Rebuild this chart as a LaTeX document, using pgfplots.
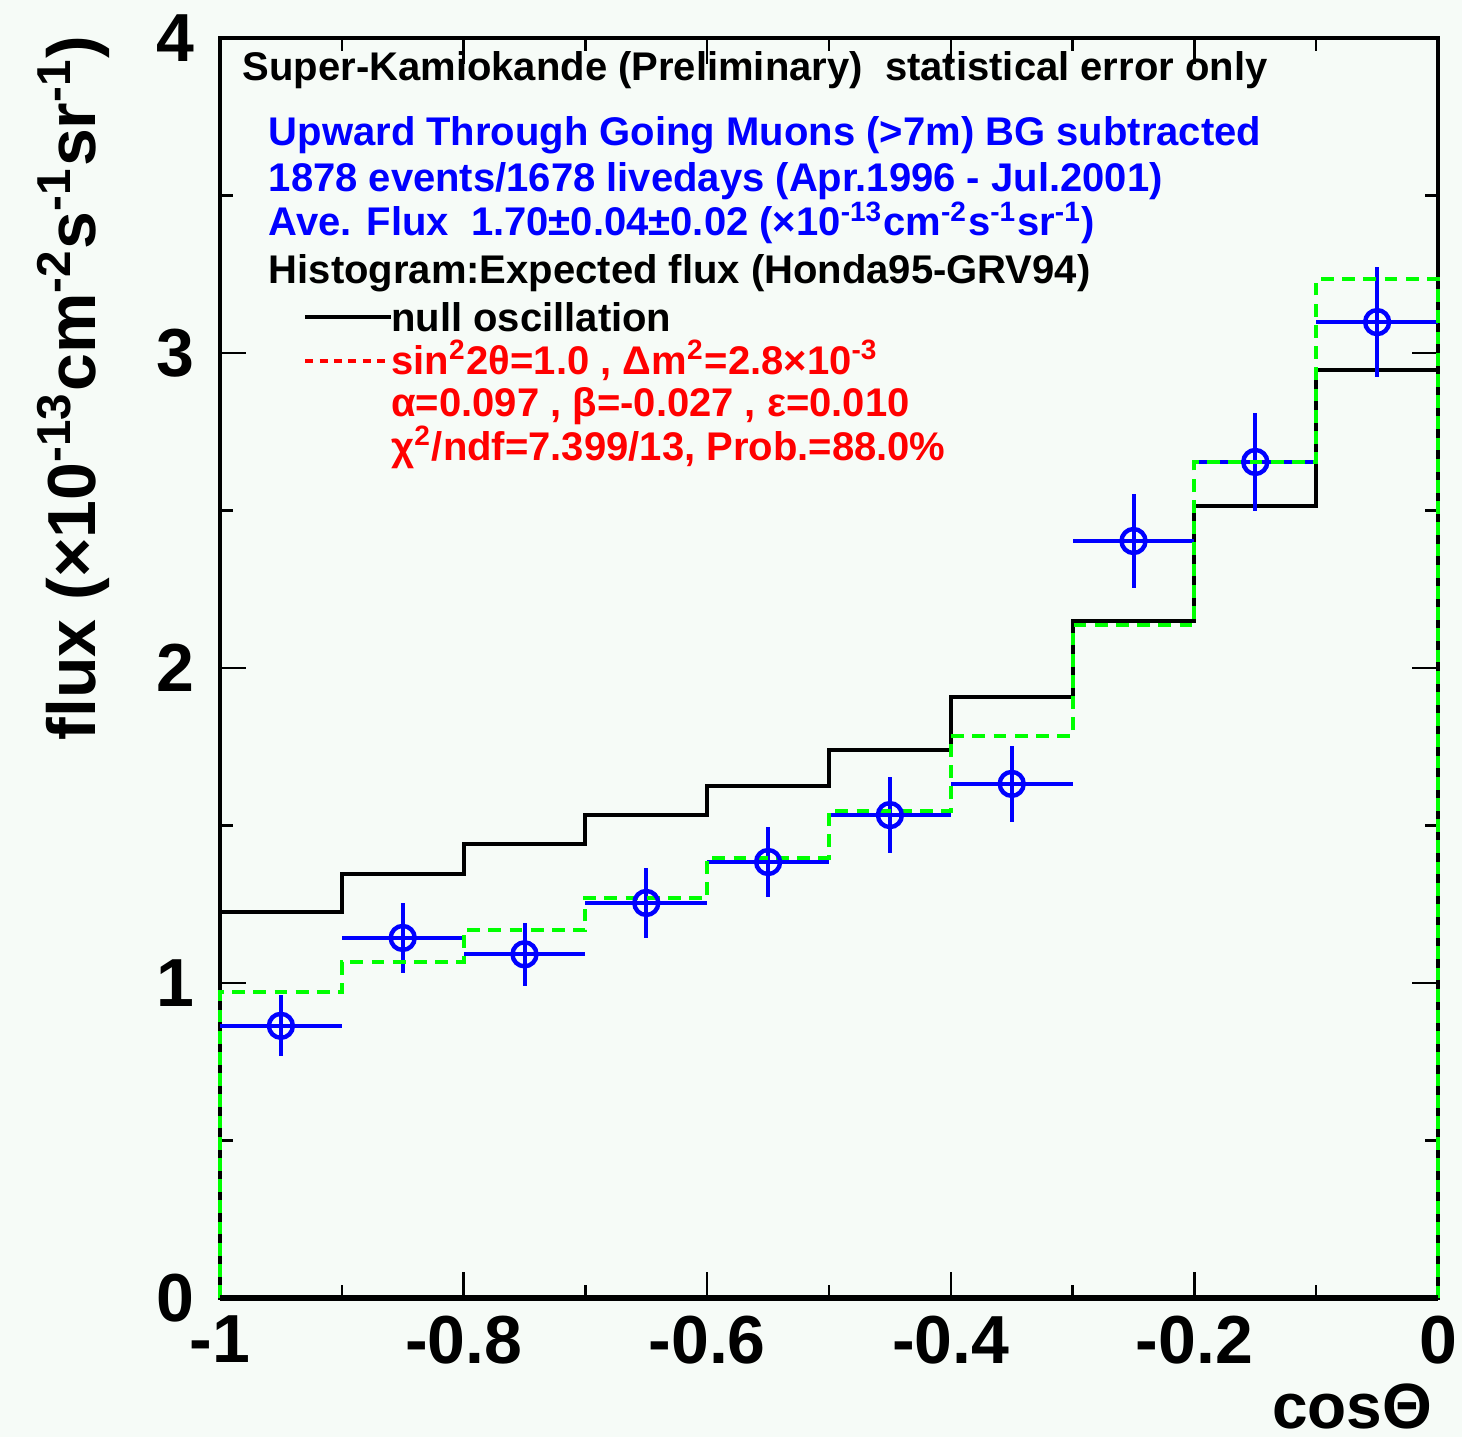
\documentclass[border=0pt]{standalone}
\usepackage{pgfplots}
\pgfplotsset{compat=1.18}
\usepackage{fontspec}
\setmainfont{Liberation Sans}
\usetikzlibrary{backgrounds}
\definecolor{bg}{RGB}{246,251,247}
\definecolor{lgreen}{RGB}{0,255,0}
\newcommand{\txt}{\fontsize{10}{11}\selectfont\bfseries}
\begin{document}
\begin{tikzpicture}
\begin{axis}[
  scale only axis,
  width=304.5pt, height=315pt,
  xmin=-1, xmax=0, ymin=0, ymax=4,
  xtick={-1,-0.8,-0.6,-0.4,-0.2,0},
  xticklabels={-1,-0.8,-0.6,-0.4,-0.2,0},
  minor xtick={-0.9,-0.7,-0.5,-0.3,-0.1},
  ytick={0,1,2,3,4},
  yticklabels={0,1,2,3,4},
  minor ytick={0.5,1.5,2.5,3.5},
  tick align=inside,
  xtick pos=both, ytick pos=both,
  major tick length=6.5pt, minor tick length=3.25pt,
  every tick/.style={line width=0.6pt, black},
  axis line style={line width=0.8pt},
  /pgf/number format/assume math mode=true,
  ticklabel style={font=\fontsize{17}{17}\selectfont\bfseries},
  xticklabel style={yshift=-1pt},
  yticklabel style={xshift=-3pt},
  clip=false,
]
\coordinate (bl) at (rel axis cs:0,0);
\coordinate (tr) at (rel axis cs:1,1);

% null oscillation
\addplot[black, line width=1pt, const plot mark left] coordinates {
(-1,0) (-1,1.226) (-0.9,1.346) (-0.8,1.441) (-0.7,1.533) (-0.6,1.625)
(-0.5,1.740) (-0.4,1.908) (-0.3,2.150) (-0.2,2.514) (-0.1,2.946) (0,2.946) (0,0)};

% data
\addplot[blue, line width=1pt, only marks, mark=o, mark size=3pt,
  mark options={fill=white, line width=1.1pt, draw=blue},
  error bars/.cd, x dir=both, x fixed=0.05, y dir=both, y explicit,
  error bar style={line width=1pt, blue}, error mark=none]
table[x=x, y=y, y error=ey] {
x y ey
-0.95 0.864 0.097
-0.85 1.143 0.110
-0.75 1.091 0.100
-0.65 1.254 0.110
-0.55 1.384 0.110
-0.45 1.533 0.120
-0.35 1.632 0.120
-0.25 2.403 0.148
-0.15 2.654 0.156
-0.05 3.098 0.175
};

% oscillation
\addplot[lgreen, line width=1pt, dash pattern=on 3.2pt off 2.1pt, const plot mark left] coordinates {
(-1,0) (-1,0.971) (-0.9,1.067) (-0.8,1.167) (-0.7,1.270) (-0.6,1.398)
(-0.5,1.546) (-0.4,1.784) (-0.3,2.136) (-0.2,2.654) (-0.1,3.235) (0,3.235) (0,0)};

\draw[line width=1.3pt] (rel axis cs:0,0) -- (rel axis cs:1,0);

% texts
\node[anchor=west, inner sep=0, font=\txt] at (axis cs:-0.982,3.898)
  {Super-Kamiokande (Preliminary)\ \ statistical error only};
\node[anchor=west, inner sep=0, font=\txt, text=blue] at (axis cs:-0.9606,3.692)
  {Upward Through Going Muons (>7m) BG subtracted};
\node[anchor=west, inner sep=0, font=\txt, text=blue] at (axis cs:-0.9606,3.546)
  {1878 events/1678 livedays (Apr.1996 - Jul.2001)};
\node[anchor=west, inner sep=0, font=\txt, text=blue] at (axis cs:-0.9606,3.413)
  {Ave. Flux\ \ 1.70±0.04±0.02 (×10\textsuperscript{-13}cm\textsuperscript{-2}s\textsuperscript{-1}sr\textsuperscript{-1})};
\node[anchor=west, inner sep=0, font=\txt] at (axis cs:-0.9606,3.254)
  {Histogram:Expected flux (Honda95-GRV94)};
\draw[black, line width=1pt] (axis cs:-0.930,3.114) -- (axis cs:-0.860,3.114);
\node[anchor=west, inner sep=0, font=\txt] at (axis cs:-0.860,3.112)
  {null oscillation};
\draw[red, line width=1pt, dash pattern=on 2pt off 1.6pt] (axis cs:-0.930,2.974) -- (axis cs:-0.860,2.974);
\node[anchor=west, inner sep=0, font=\txt, text=red] at (axis cs:-0.860,2.976)
  {sin\textsuperscript{2}2θ=1.0 , Δm\textsuperscript{2}=2.8×10\textsuperscript{-3}};
\node[anchor=west, inner sep=0, font=\txt, text=red] at (axis cs:-0.860,2.830)
  {α=0.097 , β=-0.027 , ε=0.010};
\node[anchor=west, inner sep=0, font=\txt, text=red] at (axis cs:-0.860,2.700)
  {χ\textsuperscript{2}/ndf=7.399/13, Prob.=88.0\%};

% axis labels
\node[rotate=90, inner sep=0, font=\fontsize{17}{17}\selectfont\bfseries] at ([xshift=-36.75pt]axis cs:-1,2.889)
  {flux (×10\textsuperscript{-13}cm\textsuperscript{-2}s\textsuperscript{-1}sr\textsuperscript{-1})};
\node[inner sep=0, font=\fontsize{16}{16}\selectfont\bfseries] at ([yshift=-27pt]axis cs:-0.0706,0)
  {cosΘ};
\end{axis}
\pgfresetboundingbox
\begin{scope}[on background layer]
\fill[bg] ([shift={(-55pt,-34.75pt)}]bl) rectangle ([shift={(6pt,9.5pt)}]tr);
\end{scope}
\end{tikzpicture}
\end{document}
